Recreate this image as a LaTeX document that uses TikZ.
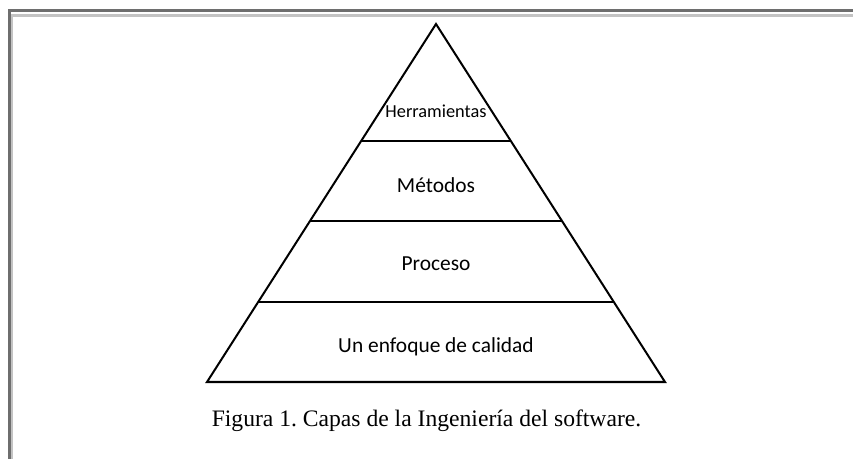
\documentclass[tikz,border=0pt]{standalone}
\usepackage{fontspec}
\setmainfont{Liberation Serif}
\newfontfamily\layerfont{Carlito}
\usetikzlibrary{calc}
\definecolor{framedark}{RGB}{110,110,110}
\definecolor{framelight}{RGB}{195,195,195}
\frenchspacing
\begin{document}
\begin{tikzpicture}[
        x=1bp, y=-1bp,
        layer/.style={font=\layerfont\fontsize{21.5}{24}\selectfont, anchor=base},
        edge/.style={line width=2bp, line join=miter}
    ]
    \useasboundingbox (0,0) rectangle (853,459);

    % frame
    \draw[framedark, line width=3bp] (9.5,459) -- (9.5,10.5) -- (853,10.5);
    \draw[framelight, line width=2.5bp] (12,459) -- (12,15.5) -- (853,15.5);

    % pyramid
    \coordinate (top) at (436,24);
    \coordinate (left) at (207,382);
    \coordinate (right) at (665,382);
    \draw[edge] (left) -- (top) -- (right) -- cycle;
    \foreach \t [count=\i] in {0.3268, 0.5489, 0.7765} {
        \coordinate (l\i) at ($(top)!\t!(left)$);
        \coordinate (r\i) at ($(top)!\t!(right)$);
        \draw[edge] (l\i) -- (r\i);
    }

    \node[layer, font=\layerfont\fontsize{18.4}{20}\selectfont] (tools) at (436,117.3) {Herramientas};
    \node[layer] (methods) at (436,193) {Métodos};
    \node[layer] (process) at (436,270.7) {Proceso};
    \node[layer] (quality) at (436,352.3) {Un enfoque de calidad};

    \node[anchor=base, font=\fontsize{23.7}{28}\selectfont] (caption) at (426.5,426) {Figura 1. Capas de la Ingeniería del software.};
\end{tikzpicture}
\end{document}
